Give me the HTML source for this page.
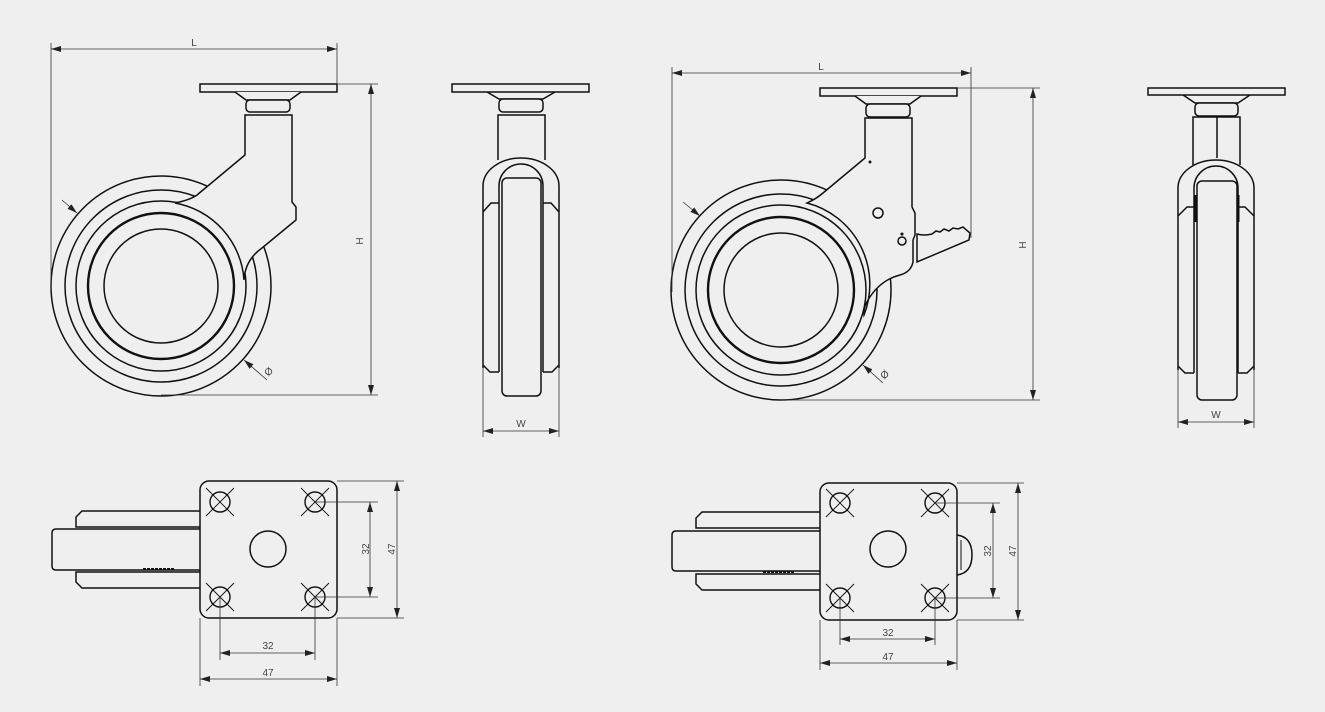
<!DOCTYPE html>
<html><head><meta charset="utf-8"><style>
html,body{margin:0;padding:0;background:#efefef;}
svg{display:block;}
text{font-family:"Liberation Sans",sans-serif;fill:#444;font-size:10px;}
</style></head><body>
<svg width="1325" height="712" viewBox="0 0 1325 712" xmlns="http://www.w3.org/2000/svg">
<defs>
<marker id="a" viewBox="0 0 10 6" refX="10" refY="3" markerWidth="10" markerHeight="6" markerUnits="userSpaceOnUse" orient="auto-start-reverse"><path d="M0,0 L10,3 L0,6 Z" fill="#222"/></marker>
</defs>
<rect width="1325" height="712" fill="#efefef"/>

<!-- ========== VIEW 1 : side ========== -->
<g fill="none" stroke="#111" stroke-width="1.5">
<circle cx="161" cy="286" r="110"/>
<circle cx="161" cy="286" r="96"/>
<circle cx="161" cy="286" r="85"/>
<circle cx="161" cy="286" r="73" stroke-width="2.4"/>
<circle cx="161" cy="286" r="57"/>
<path d="M245,115 L292,115 L292,202 L296,207 L296,220 L262,248 Q245,260 244,280 A84,84 0 0 0 175,203 Q190,200 197,195 L245,155 Z" fill="#efefef"/>
<rect x="200" y="84" width="137" height="8" fill="#efefef"/>
<path d="M235,92 L246,100 L290,100 L301,92" fill="#efefef"/>
<rect x="246" y="100" width="44" height="12" rx="4" fill="#efefef"/>
</g>
<g stroke="#333" stroke-width="0.8" fill="none">
<line x1="51" y1="43" x2="51" y2="290"/>
<line x1="337" y1="43" x2="337" y2="84"/>
<line x1="51" y1="49" x2="337" y2="49" marker-start="url(#a)" marker-end="url(#a)"/>
<line x1="337" y1="84" x2="378" y2="84"/>
<line x1="161" y1="395" x2="378" y2="395"/>
<line x1="371" y1="84" x2="371" y2="395" marker-start="url(#a)" marker-end="url(#a)"/>
<line x1="62" y1="200" x2="77" y2="213" marker-end="url(#a)"/>
<line x1="267" y1="380" x2="244" y2="360" marker-end="url(#a)"/>
</g>
<text x="194" y="46" text-anchor="middle">L</text>
<text x="0" y="0" transform="translate(363,241) rotate(-90)" text-anchor="middle">H</text>
<text x="0" y="0" transform="translate(271,374) rotate(-45)" text-anchor="middle">Ø</text>

<!-- ========== VIEW 2 : front ========== -->
<g fill="none" stroke="#111" stroke-width="1.5">
<rect x="452" y="84" width="137" height="8" fill="#efefef"/>
<path d="M487,92 L499,99 L543,99 L555,92"/>
<rect x="499" y="99" width="44" height="13" rx="4" fill="#efefef"/>
<path d="M498,160 L498,115 L545,115 L545,160"/>
<path d="M483,368 L483,186 A38,28 0 0 1 559,186 L559,368"/>
<path d="M499,372 L499,186 A22,22 0 0 1 543,186 L543,372"/>
<path d="M483,365 L490,372 L499,372 M559,365 L552,372 L543,372"/>
<path d="M483,212 L491,203 L499,203 M559,212 L551,203 L543,203"/>
<rect x="502" y="178" width="39" height="218" rx="5" fill="#efefef"/>
</g>
<g stroke="#333" stroke-width="0.8" fill="none">
<line x1="483" y1="368" x2="483" y2="437"/>
<line x1="559" y1="368" x2="559" y2="437"/>
<line x1="483" y1="431" x2="559" y2="431" marker-start="url(#a)" marker-end="url(#a)"/>
</g>
<text x="521" y="427" text-anchor="middle">W</text>

<!-- ========== VIEW 3 : side with brake ========== -->
<g fill="none" stroke="#111" stroke-width="1.5">
<circle cx="781" cy="290" r="110"/>
<circle cx="781" cy="290" r="96"/>
<circle cx="781" cy="290" r="85"/>
<circle cx="781" cy="290" r="73" stroke-width="2.4"/>
<circle cx="781" cy="290" r="57"/>
<path d="M917,234 Q924,236 932,234 L936,231 L940,232 L944,229 L949,231 L953,228 L958,229 L963,227 L970,233 L969,240 L917,262 Z" fill="#efefef"/>
<path d="M865,118 L912,118 L912,207 L915,213 L915,235 L913,240 L913,262 Q911,272 900,275 Q880,280 868,300 Q863,308 864,315 A84,84 0 0 0 807,203 Q816,199 823,193 L865,158 Z" fill="#efefef"/>
<rect x="820" y="88" width="137" height="8" fill="#efefef"/>
<path d="M855,96 L866,104 L910,104 L921,96" fill="#efefef"/>
<rect x="866" y="104" width="44" height="13" rx="4" fill="#efefef"/>
<circle cx="878" cy="213" r="5"/>
<circle cx="902" cy="241" r="4"/>
<circle cx="902" cy="234" r="0.8" fill="#111"/>
<circle cx="870" cy="162" r="0.7" fill="#111"/>
</g>
<g stroke="#333" stroke-width="0.8" fill="none">
<line x1="672" y1="67" x2="672" y2="292"/>
<line x1="971" y1="67" x2="971" y2="238"/>
<line x1="672" y1="73" x2="971" y2="73" marker-start="url(#a)" marker-end="url(#a)"/>
<line x1="957" y1="88" x2="1040" y2="88"/>
<line x1="781" y1="400" x2="1040" y2="400"/>
<line x1="1033" y1="88" x2="1033" y2="400" marker-start="url(#a)" marker-end="url(#a)"/>
<line x1="683" y1="202" x2="700" y2="216" marker-end="url(#a)"/>
<line x1="883" y1="383" x2="863" y2="365" marker-end="url(#a)"/>
</g>
<text x="821" y="70" text-anchor="middle">L</text>
<text x="0" y="0" transform="translate(1026,245) rotate(-90)" text-anchor="middle">H</text>
<text x="0" y="0" transform="translate(887,377) rotate(-45)" text-anchor="middle">Ø</text>

<!-- ========== VIEW 4 : front with brake ========== -->
<g fill="none" stroke="#111" stroke-width="1.5">
<rect x="1148" y="88" width="137" height="7" fill="#efefef"/>
<path d="M1183,95 L1195,103 L1238,103 L1250,95"/>
<rect x="1195" y="103" width="43" height="13" rx="4" fill="#efefef"/>
<path d="M1193,165 L1193,117 L1240,117 L1240,165 M1217,117 L1217,158"/>
<path d="M1178,370 L1178,188 A38,28 0 0 1 1254,188 L1254,370"/>
<path d="M1194,373 L1194,188 A22,22 0 0 1 1238,188 L1238,373"/>
<path d="M1178,366 L1185,373 L1194,373 M1254,366 L1247,373 L1238,373"/>
<path d="M1178,216 L1187,207 L1194,207 M1254,216 L1245,207 L1238,207"/>
<path d="M1195,195 L1195,222 M1238,195 L1238,222" stroke-width="3"/>
<rect x="1197" y="181" width="40" height="219" rx="5" fill="#efefef"/>
</g>
<g stroke="#333" stroke-width="0.8" fill="none">
<line x1="1178" y1="370" x2="1178" y2="428"/>
<line x1="1254" y1="370" x2="1254" y2="428"/>
<line x1="1178" y1="422" x2="1254" y2="422" marker-start="url(#a)" marker-end="url(#a)"/>
</g>
<text x="1216" y="418" text-anchor="middle">W</text>

<!-- ========== VIEW 5 : bottom 1 ========== -->
<g fill="none" stroke="#111" stroke-width="1.5">
<path d="M200,511 L82,511 L76,517 L76,527 L200,527"/>
<path d="M200,588 L82,588 L76,582 L76,572 L200,572"/>
<path d="M200,529 L56,529 Q52,529 52,533 L52,566 Q52,570 56,570 L200,570"/>
<line x1="143" y1="569" x2="175" y2="569" stroke-width="2" stroke-dasharray="3,1"/>
<rect x="200" y="481" width="137" height="137" rx="9" fill="#efefef"/>
<circle cx="268" cy="549" r="18"/>
<g stroke-width="1.4">
<circle cx="220" cy="502" r="10"/><circle cx="315" cy="502" r="10"/>
<circle cx="220" cy="597" r="10"/><circle cx="315" cy="597" r="10"/>
</g>
<g stroke-width="0.9">
<path d="M206,488 L234,516 M234,488 L206,516"/>
<path d="M301,488 L329,516 M329,488 L301,516"/>
<path d="M206,583 L234,611 M234,583 L206,611"/>
<path d="M301,583 L329,611 M329,583 L301,611"/>
</g>
</g>
<g stroke="#333" stroke-width="0.8" fill="none">
<line x1="315" y1="502" x2="378" y2="502"/>
<line x1="315" y1="597" x2="378" y2="597"/>
<line x1="370" y1="502" x2="370" y2="597" marker-start="url(#a)" marker-end="url(#a)"/>
<line x1="337" y1="481" x2="404" y2="481"/>
<line x1="337" y1="618" x2="404" y2="618"/>
<line x1="397" y1="481" x2="397" y2="618" marker-start="url(#a)" marker-end="url(#a)"/>
<line x1="220" y1="597" x2="220" y2="660"/>
<line x1="315" y1="597" x2="315" y2="660"/>
<line x1="220" y1="653" x2="315" y2="653" marker-start="url(#a)" marker-end="url(#a)"/>
<line x1="200" y1="618" x2="200" y2="686"/>
<line x1="337" y1="618" x2="337" y2="686"/>
<line x1="200" y1="679" x2="337" y2="679" marker-start="url(#a)" marker-end="url(#a)"/>
</g>
<text x="268" y="649" text-anchor="middle">32</text>
<text x="268" y="676" text-anchor="middle">47</text>
<text x="0" y="0" transform="translate(369,549) rotate(-90)" text-anchor="middle">32</text>
<text x="0" y="0" transform="translate(395,549) rotate(-90)" text-anchor="middle">47</text>

<!-- ========== VIEW 6 : bottom 2 ========== -->
<g fill="none" stroke="#111" stroke-width="1.5">
<path d="M820,512 L702,512 L696,518 L696,528 L820,528"/>
<path d="M820,590 L702,590 L696,584 L696,574 L820,574"/>
<path d="M820,531 L676,531 Q672,531 672,535 L672,567 Q672,571 676,571 L820,571"/>
<line x1="763" y1="572" x2="795" y2="572" stroke-width="2" stroke-dasharray="3,1"/>
<path d="M957,535 Q972,537 972,555 Q972,573 957,575"/>
<line x1="961" y1="540" x2="961" y2="570" stroke-width="1"/>
<rect x="820" y="483" width="137" height="137" rx="9" fill="#efefef"/>
<circle cx="888" cy="549" r="18"/>
<g stroke-width="1.4">
<circle cx="840" cy="503" r="10"/><circle cx="935" cy="503" r="10"/>
<circle cx="840" cy="598" r="10"/><circle cx="935" cy="598" r="10"/>
</g>
<g stroke-width="0.9">
<path d="M826,489 L854,517 M854,489 L826,517"/>
<path d="M921,489 L949,517 M949,489 L921,517"/>
<path d="M826,584 L854,612 M854,584 L826,612"/>
<path d="M921,584 L949,612 M949,584 L921,612"/>
</g>
</g>
<g stroke="#333" stroke-width="0.8" fill="none">
<line x1="935" y1="503" x2="1000" y2="503"/>
<line x1="935" y1="598" x2="1000" y2="598"/>
<line x1="993" y1="503" x2="993" y2="598" marker-start="url(#a)" marker-end="url(#a)"/>
<line x1="957" y1="483" x2="1024" y2="483"/>
<line x1="957" y1="620" x2="1024" y2="620"/>
<line x1="1018" y1="483" x2="1018" y2="620" marker-start="url(#a)" marker-end="url(#a)"/>
<line x1="840" y1="598" x2="840" y2="645"/>
<line x1="935" y1="598" x2="935" y2="645"/>
<line x1="840" y1="639" x2="935" y2="639" marker-start="url(#a)" marker-end="url(#a)"/>
<line x1="820" y1="620" x2="820" y2="670"/>
<line x1="957" y1="620" x2="957" y2="670"/>
<line x1="820" y1="663" x2="957" y2="663" marker-start="url(#a)" marker-end="url(#a)"/>
</g>
<text x="888" y="636" text-anchor="middle">32</text>
<text x="888" y="660" text-anchor="middle">47</text>
<text x="0" y="0" transform="translate(991,551) rotate(-90)" text-anchor="middle">32</text>
<text x="0" y="0" transform="translate(1016,551) rotate(-90)" text-anchor="middle">47</text>
</svg>
</body></html>
